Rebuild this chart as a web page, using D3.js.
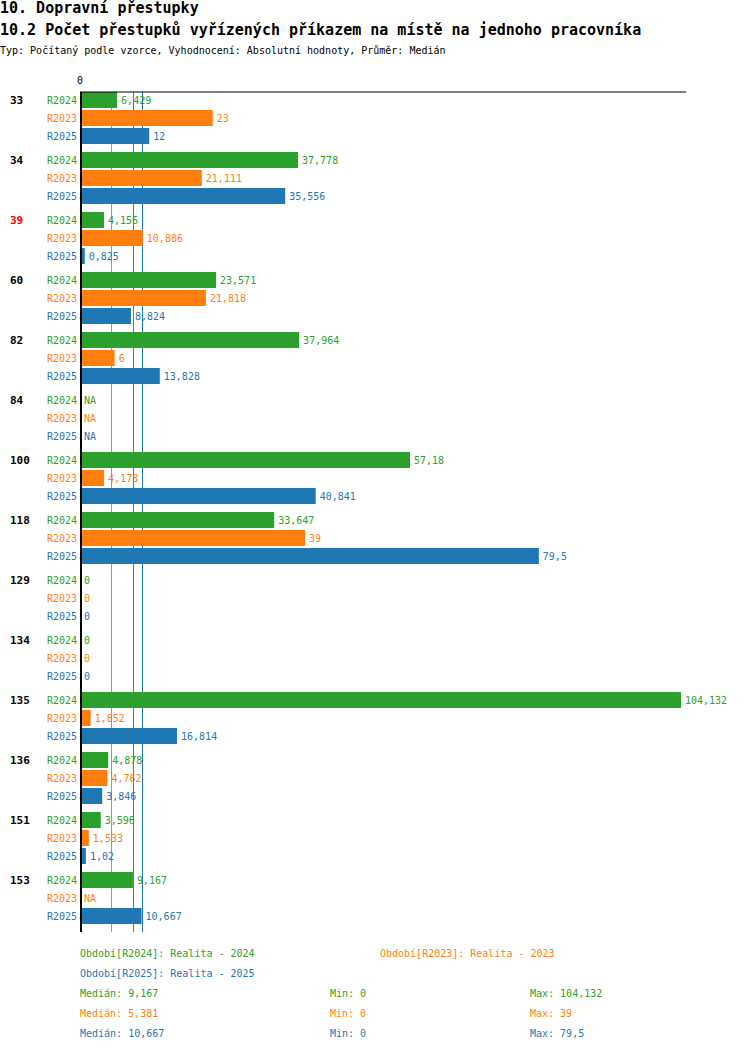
<!DOCTYPE html>
<html>
<head>
<meta charset="utf-8">
<script src="https://cdn.jsdelivr.net/npm/d3@7"></script>
<style>
    body { margin: 0; background: #fff; }
    text { font-family: "DejaVu Sans Mono", monospace; }
</style>
</head>
<body>
<div id="chart"></div>
<script>
const categories = ["33", "34", "39", "60", "82", "84", "100", "118", "129", "134", "135", "136", "151", "153"];
const highlighted = ["39"];
const seriesNames = ["R2024", "R2023", "R2025"];
const seriesColors = ["#2ca02c", "#ff7f0e", "#1f77b4"];
const seriesLabels = ["Období[R2024]: Realita - 2024", "Období[R2023]: Realita - 2023", "Období[R2025]: Realita - 2025"];

// null = NA
const r2024 = [6.429, 37.778, 4.156, 23.571, 37.964, null, 57.18, 33.647, 0, 0, 104.132, 4.878, 3.596, 9.167];
const r2023 = [23, 21.111, 10.886, 21.818, 6, null, 4.178, 39, 0, 0, 1.852, 4.762, 1.533, null];
const r2025 = [12, 35.556, 0.825, 8.824, 13.828, null, 40.841, 79.5, 0, 0, 16.814, 3.846, 1.02, 10.667];
const seriesValues = [r2024, r2023, r2025];

const medians = [9.167, 5.381, 10.667];
const mins = [0, 0, 0];
const maxs = [104.132, 39, 79.5];

const title = "10. Dopravní přestupky";
const subtitle = "10.2 Počet přestupků vyřízených příkazem na místě na jednoho pracovníka";
const info = "Typ: Počítaný podle vzorce, Vyhodnocení: Absolutní hodnoty, Průměr: Medián";

const width = 750, height = 1052;
const fmt = v => String(v).replace(".", ",");

const svg = d3.select("#chart").append("svg")
    .attr("width", width)
    .attr("height", height);

svg.append("text").attr("x", 0).attr("y", 13)
    .style("font-size", "15px").style("font-weight", "bold").text(title);
svg.append("text").attr("x", 0).attr("y", 35)
    .style("font-size", "15px").style("font-weight", "bold").text(subtitle);
svg.append("text").attr("x", 0).attr("y", 54)
    .style("font-size", "10px").text(info);

const allValues = seriesValues.flat().filter(v => v !== null);
const x = d3.scaleLinear()
    .domain([0, d3.max(allValues)])
    .range([80, 681]);

const y = d3.scaleBand()
    .domain(categories)
    .range([91, 931]);

const yInner = d3.scaleBand()
    .domain(seriesNames)
    .range([0, 54])
    .paddingInner(0.111)
    .paddingOuter(0.0555);

const plotTop = 92, plotBottom = 932;

// median lines behind bars
svg.append("g")
    .selectAll("line")
    .data(medians)
    .enter().append("line")
    .attr("x1", d => Math.round(x(d)) + 0.5)
    .attr("x2", d => Math.round(x(d)) + 0.5)
    .attr("y1", plotTop)
    .attr("y2", plotBottom)
    .attr("stroke", (d, i) => seriesColors[i])
    .attr("stroke-width", 1);

const rows = [];
categories.forEach((c, ci) => {
    seriesNames.forEach((s, si) => {
        rows.push({ cat: c, series: s, si, value: seriesValues[si][ci] });
    });
});

const rowY = d => y(d.cat) + yInner(d.series);

svg.append("g")
    .selectAll("rect")
    .data(rows.filter(d => d.value !== null && d.value > 0))
    .enter().append("rect")
    .attr("x", x(0))
    .attr("y", d => rowY(d))
    .attr("width", d => x(d.value) - x(0))
    .attr("height", yInner.bandwidth())
    .attr("fill", d => seriesColors[d.si]);

// value labels
svg.append("g")
    .selectAll("text")
    .data(rows)
    .enter().append("text")
    .attr("x", d => (d.value === null ? x(0) : x(d.value)) + 4)
    .attr("y", d => rowY(d) + yInner.bandwidth() / 2)
    .attr("dy", "0.35em")
    .style("font-size", "10px")
    .attr("fill", d => seriesColors[d.si])
    .text(d => d.value === null ? "NA" : fmt(d.value));

// series labels
svg.append("g")
    .selectAll("text")
    .data(rows)
    .enter().append("text")
    .attr("x", 77)
    .attr("y", d => rowY(d) + yInner.bandwidth() / 2)
    .attr("dy", "0.35em")
    .attr("text-anchor", "end")
    .style("font-size", "10px")
    .attr("fill", d => seriesColors[d.si])
    .text(d => d.series);

// category labels
svg.append("g")
    .selectAll("text")
    .data(categories)
    .enter().append("text")
    .attr("x", 10)
    .attr("y", d => y(d) + yInner(seriesNames[0]) + yInner.bandwidth() / 2)
    .attr("dy", "0.35em")
    .style("font-size", "11px")
    .style("font-weight", "bold")
    .attr("fill", d => highlighted.includes(d) ? "#ff0000" : "#000")
    .text(d => d);

// axes
svg.append("line")
    .attr("x1", 80).attr("x2", 686)
    .attr("y1", plotTop).attr("y2", plotTop)
    .attr("stroke", "#000").attr("stroke-width", 1.2);
svg.append("line")
    .attr("x1", 81).attr("x2", 81)
    .attr("y1", plotTop).attr("y2", plotBottom)
    .attr("stroke", "#000").attr("stroke-width", 2);
svg.append("text")
    .attr("x", x(0)).attr("y", 84)
    .attr("text-anchor", "middle")
    .style("font-size", "10px")
    .text("0");

// legend
const legend = svg.append("g").style("font-size", "10px");
const legendPos = [[80, 957], [380, 957], [80, 977]];
seriesLabels.forEach((t, i) => {
    legend.append("text")
        .attr("x", legendPos[i][0]).attr("y", legendPos[i][1])
        .attr("fill", seriesColors[i])
        .text(t);
});
seriesColors.forEach((col, i) => {
    const yy = 997 + i * 20;
    legend.append("text").attr("x", 80).attr("y", yy).attr("fill", col).text("Medián: " + fmt(medians[i]));
    legend.append("text").attr("x", 330).attr("y", yy).attr("fill", col).text("Min: " + fmt(mins[i]));
    legend.append("text").attr("x", 530).attr("y", yy).attr("fill", col).text("Max: " + fmt(maxs[i]));
});
</script>
</body>
</html>
